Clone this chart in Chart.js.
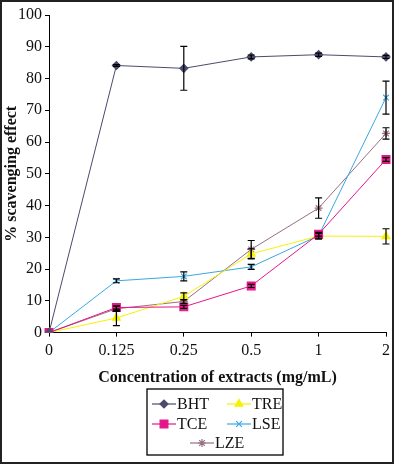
<!DOCTYPE html>
<html>
<head>
<meta charset="utf-8">
<script src="https://cdn.jsdelivr.net/npm/chart.js@4"></script>
<style>
html,body{margin:0;padding:0;background:#fff;overflow:hidden;}
canvas{display:block;}
</style>
</head>
<body>
<canvas id="c" width="395" height="465"></canvas>
<script>
const categories = ['0', '0.125', '0.25', '0.5', '1', '2'];
const seriesNames = ['BHT', 'TCE', 'TRE', 'LSE', 'LZE'];
const bhtValues = [0, 84.1, 83.2, 86.8, 87.5, 86.8];
const bhtErrors = [0, 0.3, 6.9, 0.6, 0.5, 0.5];
const tceValues = [0, 7.9, 8.1, 14.7, 31.0, 54.5];
const tceErrors = [0, 0.5, 0.5, 0.5, 0.6, 0.6];
const treValues = [0, 4.6, 11.4, 24.8, 30.4, 30.3];
const treErrors = [0, 2.4, 1.1, 1.6, 1.0, 2.4];
const lseValues = [0, 16.3, 17.7, 20.7, 30.5, 74.0];
const lseErrors = [0, 0.6, 1.4, 0.8, 0.8, 5.2];
const lzeValues = [0, 7.5, 9.8, 26.2, 39.2, 62.7];
const lzeErrors = [0, 0.8, 0.6, 2.8, 3.2, 1.8];
const yMin = 0, yMax = 100, yStep = 10;

const FONT = '"Liberation Serif", "Times New Roman", serif';

function ds(label, data, errors, color, style, radius) {
  return {
    label, data, errors,
    borderColor: color, backgroundColor: color,
    pointStyle: style, pointRadius: radius, pointHoverRadius: radius,
    pointBorderColor: color, pointBackgroundColor: color,
    pointBorderWidth: 1.2, borderWidth: 1, tension: 0, fill: false
  };
}

const datasets = [
  ds(seriesNames[0], bhtValues, bhtErrors, '#4b4b6e', 'rectRot', 4),
  ds(seriesNames[1], tceValues, tceErrors, '#e3178a', 'rect', 5.5),
  ds(seriesNames[2], treValues, treErrors, '#f7f200', 'triangle', 4.5),
  ds(seriesNames[3], lseValues, lseErrors, '#3aa8e0', 'crossRot', 4),
  ds(seriesNames[4], lzeValues, lzeErrors, '#9a6e82', 'star', 4)
];

const errorBars = {
  id: 'errorBars',
  afterDatasetsDraw(chart) {
    const ctx = chart.ctx, ys = chart.scales.y;
    ctx.save();
    ctx.strokeStyle = '#000';
    ctx.lineWidth = 1.2;
    chart.data.datasets.forEach((d, i) => {
      const meta = chart.getDatasetMeta(i);
      meta.data.forEach((pt, j) => {
        const e = d.errors[j];
        if (!e) return;
        const v = d.data[j];
        const y1 = ys.getPixelForValue(v + e), y2 = ys.getPixelForValue(v - e);
        const x = pt.x;
        ctx.beginPath();
        ctx.moveTo(x, y1); ctx.lineTo(x, y2);
        ctx.moveTo(x - 3.5, y1); ctx.lineTo(x + 3.5, y1);
        ctx.moveTo(x - 3.5, y2); ctx.lineTo(x + 3.5, y2);
        ctx.stroke();
      });
    });
    ctx.restore();
  }
};

function marker(ctx, d, x, y) {
  const opts = {pointStyle: d.pointStyle, radius: d.pointRadius, rotation: 0, borderWidth: d.pointBorderWidth};
  ctx.fillStyle = d.pointBackgroundColor;
  ctx.strokeStyle = d.pointBorderColor;
  ctx.lineWidth = d.pointBorderWidth;
  Chart.helpers.drawPoint(ctx, opts, x, y);
}

const boxLegend = {
  id: 'boxLegend',
  afterDraw(chart) {
    const ctx = chart.ctx;
    ctx.save();
    // outer frame
    ctx.strokeStyle = '#222';
    ctx.lineWidth = 2;
    ctx.strokeRect(1, 1, 392, 462);
    // legend box
    ctx.lineWidth = 1.3;
    ctx.strokeStyle = '#000';
    ctx.strokeRect(147, 389, 136, 66);
    // BHT, TCE, TRE, LSE, LZE slots
    const pos = [
      {x: 152, y: 404}, {x: 152, y: 424}, {x: 227, y: 404}, {x: 227, y: 424}, {x: 190, y: 443}
    ];
    ctx.font = '16px ' + FONT;
    ctx.textBaseline = 'middle';
    ctx.textAlign = 'left';
    chart.data.datasets.forEach((d, i) => {
      const p = pos[i];
      ctx.strokeStyle = d.borderColor;
      ctx.lineWidth = 1.2;
      ctx.beginPath();
      ctx.moveTo(p.x, p.y); ctx.lineTo(p.x + 24, p.y);
      ctx.stroke();
      marker(ctx, d, p.x + 12, p.y);
      ctx.fillStyle = '#111';
      ctx.fillText(d.label, p.x + 25, p.y + 1);
    });
    ctx.restore();
  }
};

new Chart(document.getElementById('c'), {
  type: 'line',
  data: {labels: categories, datasets},
  plugins: [errorBars, boxLegend],
  options: {
    responsive: false,
    devicePixelRatio: 1,
    animation: false,
    layout: {padding: {left: 0, top: 15, right: 9, bottom: 78}},
    plugins: {legend: {display: false}, tooltip: {enabled: false}},
    scales: {
      x: {
        type: 'category',
        offset: false,
        grid: {display: true, drawOnChartArea: false, drawTicks: true, tickLength: 4, color: '#000', lineWidth: 1},
        border: {display: true, color: '#000', width: 1},
        ticks: {color: '#111', font: {family: FONT, size: 16}, padding: 5, maxRotation: 0, autoSkip: false},
        title: {display: true, text: 'Concentration of extracts (mg/mL)', color: '#111',
                font: {family: FONT, size: 16, weight: 'bold'}, padding: {top: 2, bottom: 0}}
      },
      y: {
        min: yMin, max: yMax,
        afterFit(scale) { scale.width = 49; },
        grid: {display: true, drawOnChartArea: false, drawTicks: true, tickLength: 4, color: '#000', lineWidth: 1},
        border: {display: true, color: '#000', width: 1},
        ticks: {stepSize: yStep, color: '#111', font: {family: FONT, size: 16}, padding: 3},
        title: {display: true, text: '% scavenging effect', color: '#111',
                font: {family: FONT, size: 16, weight: 'bold'}, padding: {top: 2, bottom: 0}}
      }
    }
  }
});
</script>
</body>
</html>
